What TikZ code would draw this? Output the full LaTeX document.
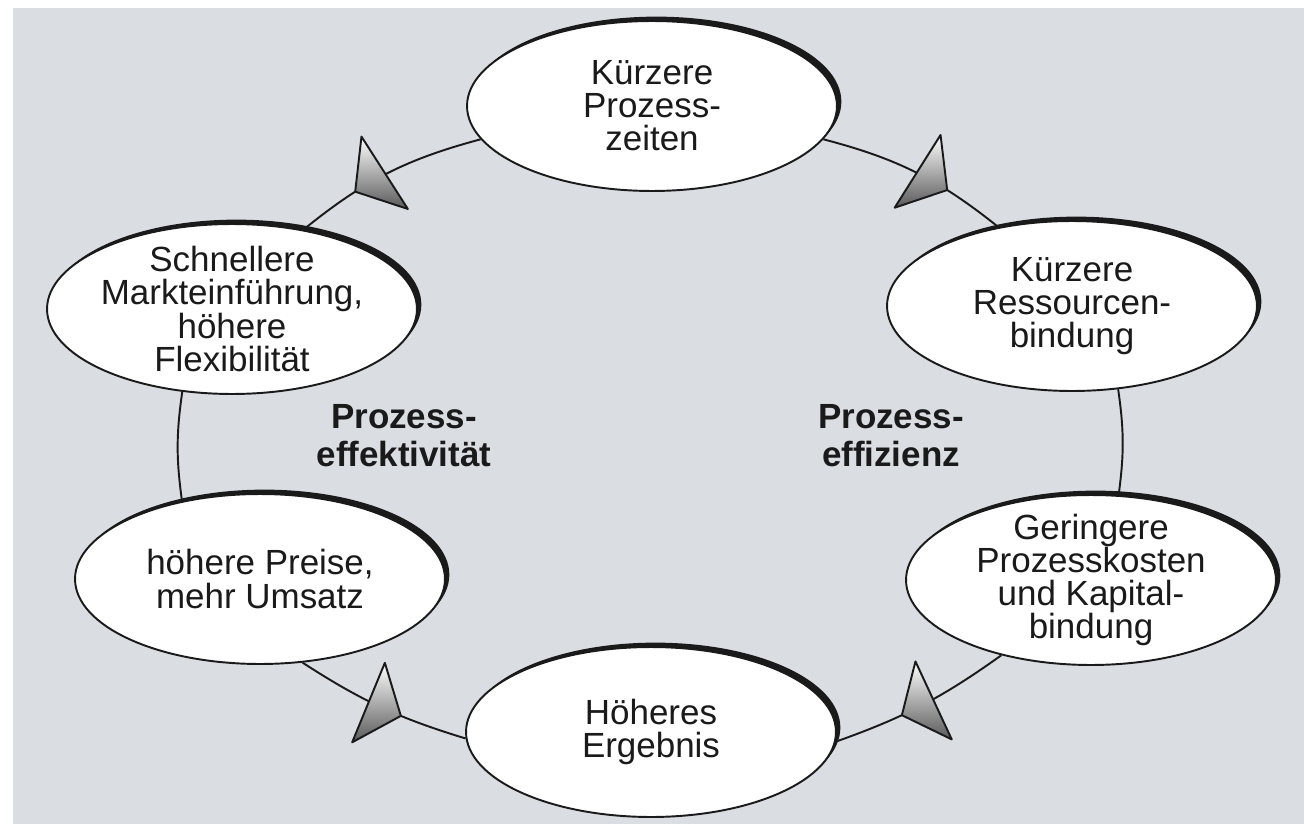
\documentclass[tikz,border=0pt]{standalone}
\usepackage{fontspec}
\setmainfont{Liberation Sans}
\usepackage{tikz}
\usetikzlibrary{shapes.geometric,shadows,decorations.markings}
\definecolor{paper}{HTML}{DADEE3}
\definecolor{ink}{HTML}{1A1A1A}
\tikzset{
  oval/.style={ellipse, draw=ink, line width=1.1pt, fill=white,
    minimum width=7.4cm, minimum height=3.4cm, inner xsep=-2pt, inner ysep=-4pt,
    align=center, text=ink, font=\fontsize{19.9}{18.8}\selectfont,
    drop shadow={shadow xshift=2.5pt, shadow yshift=2.5pt, fill=ink, opacity=1}},
  link/.style={draw=ink, line width=1.1pt},
  cone/.style={postaction={decorate}, decoration={markings, mark=at position #1 with {
    \draw[ink, line width=1.1pt, line join=round, top color=white, bottom color=black!65]
      (0,0) -- (-35,43) -- (-35,-43) -- cycle;}}},
  lab/.style={align=center, text=ink, font=\bfseries\fontsize{19.9}{21.6}\selectfont},
}

\begin{document}
\begin{tikzpicture}[x=0.02cm,y=-0.02cm]
  \useasboundingbox (0,0) rectangle (1304,824);
  \fill[paper] (13,8) rectangle (1304,824);
  % ovals
  \node[oval] (zeit)  at (652,106) {Kürzere\\Prozess-\\zeiten};
  \node[oval] (markt) at (232,309) {Schnellere\\Markteinführung,\\höhere\\Flexibilität};
  \node[oval] (ress)  at (1072,306) {Kürzere\\Ressourcen-\\bindung};
  \node[oval] (preis) at (260,579) {höhere Preise,\\mehr Umsatz};
  \node[oval] (kost)  at (1091,580) {Geringere\\Prozesskosten\\und Kapital-\\bindung};
  \node[oval] (erg)   at (651,732) {Höheres\\Ergebnis};
  \node[lab] (effekt) at (404,436) {Prozess-\\effektivität};
  \node[lab] (effiz)  at (891,436) {Prozess-\\effizienz};
  % cycle
  \draw[link,cone=0.68] (zeit.191) to[bend right=12] (markt.48);
  \draw[link,cone=0.68] (zeit.349) to[bend left=12] (ress.133);
  \draw[link] (markt.239) to[bend right=8] (preis.135);
  \draw[link] (ress.299) to[bend left=8] (kost.72);
  \draw[link,cone=0.62] (preis.297) to[bend right=8] (erg.182);
  \draw[link,cone=0.62] (kost.220) to[bend left=8] (erg.357);
\end{tikzpicture}
\end{document}
